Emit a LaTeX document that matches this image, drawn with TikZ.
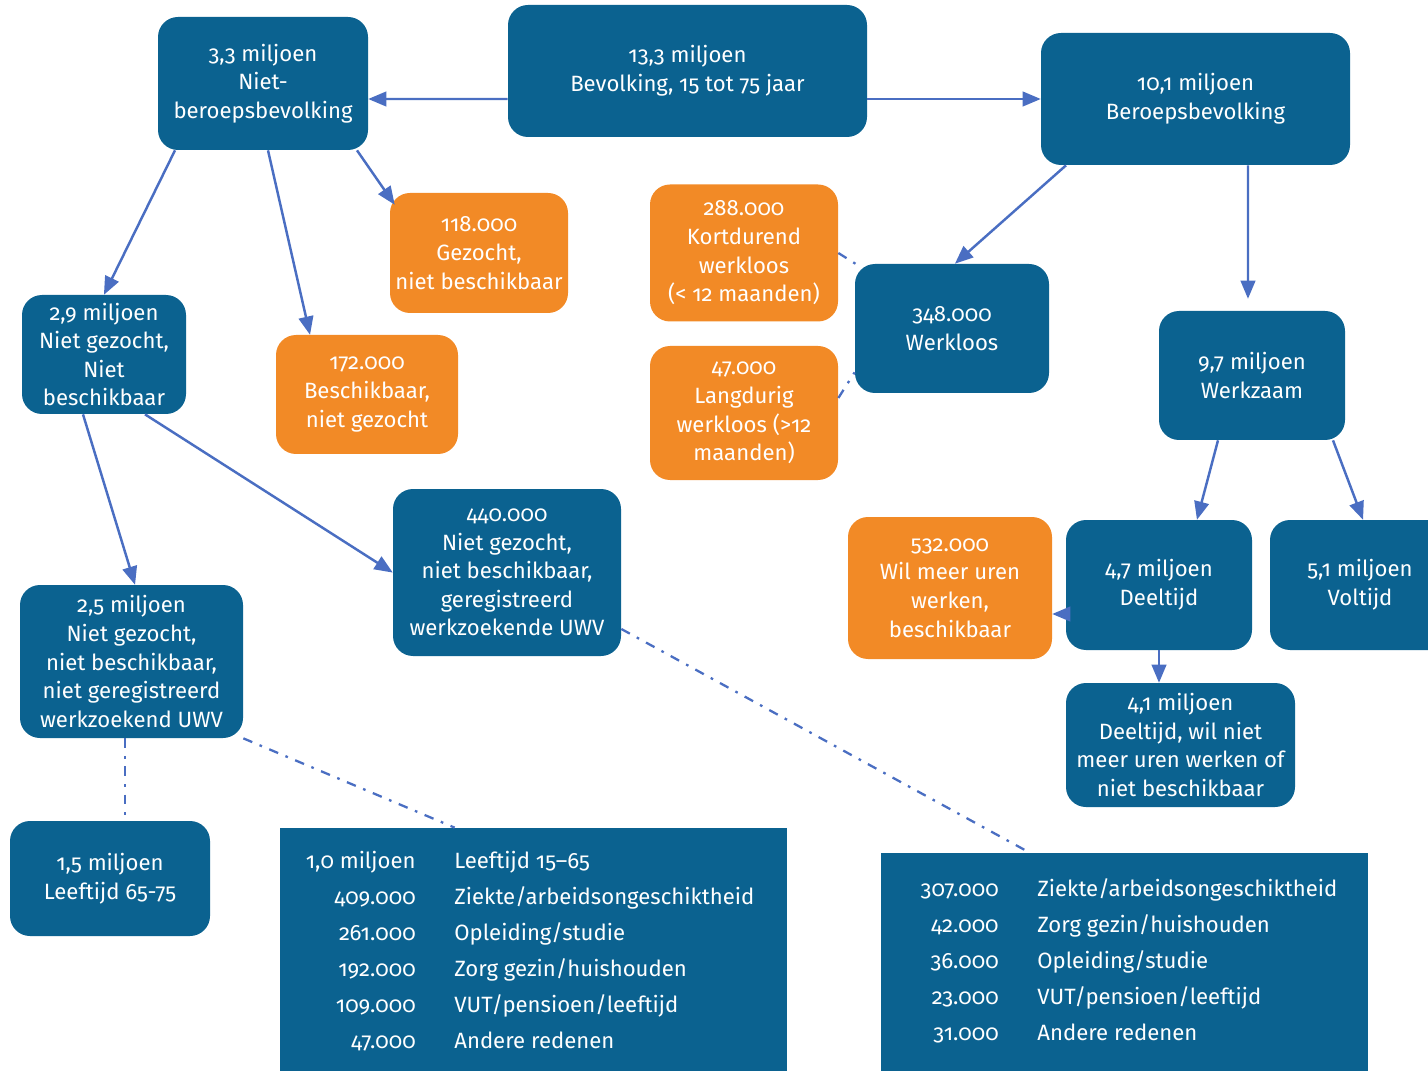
\documentclass[tikz,border=0pt]{standalone}
\usepackage{fontspec}
\setmainfont{Fira Sans}[Numbers=OldStyle]
\usepackage{xcolor}
\usetikzlibrary{arrows,positioning,calc}
\definecolor{cbsblue}{HTML}{0B6290}
\definecolor{cbsorange}{HTML}{F28A26}
\definecolor{linkblue}{HTML}{4A6EC2}

\begin{document}
\begin{tikzpicture}[x=0.02cm,y=-0.02cm,>=triangle 45,
	wh/.style 2 args={minimum width=#1*0.02cm,minimum height=#2*0.02cm},
	main node/.style={rectangle,rounded corners=0.4cm,inner sep=2pt,fill=cbsblue,text=white,align=center,
		font=\fontsize{12.6}{16.3}\selectfont},
	warm node/.style={main node,fill=cbsorange},
	table box/.style={rectangle,fill=cbsblue,inner sep=0pt},
	row text/.style={text=white,inner sep=0pt,font=\fontsize{12.6}{16.3}\selectfont},
	link/.style={->,draw=linkblue,line width=1.4pt},
	tie/.style={draw=linkblue,line width=1.3pt,dash pattern=on 5.5pt off 4.5pt on 1.5pt off 4.5pt}]

    \useasboundingbox (0,0) rectangle (1428,1071);

    % top row
    \node[main node,wh={359}{132}] (pop) at (687.5,71) {13,3 miljoen\\Bevolking, 15 tot 75 jaar};
    \node[main node,wh={210}{133}] (nbb) at (263,83.5) {3,3 miljoen\\Niet-\\beroepsbevolking};
    \node[main node,wh={309}{132}] (bb) at (1195.5,99) {10,1 miljoen\\Beroepsbevolking};

    % niet-beroepsbevolking
    \node[warm node,wh={178}{120}] (gzn) at (479,253) {118.000\\Gezocht,\\niet beschikbaar};
    \node[warm node,wh={182}{119}] (bnz) at (367,394.5) {172.000\\Beschikbaar,\\niet gezocht};
    \node[main node,wh={164}{119}] (ngnb) at (104,354.5) {2,9 miljoen\\Niet gezocht,\\Niet\\beschikbaar};
    \node[main node,wh={228}{167}] (uwv) at (507,572.5) {440.000\\Niet gezocht,\\niet beschikbaar,\\geregistreerd\\werkzoekende UWV};
    \node[main node,wh={223}{153}] (nuwv) at (131.5,661.5) {2,5 miljoen\\Niet gezocht,\\niet beschikbaar,\\niet geregistreerd\\werkzoekend UWV};
    \node[main node,wh={200}{115}] (oud) at (110,878.5) {1,5 miljoen\\Leeftijd 65-75};

    % beroepsbevolking
    \node[warm node,wh={188}{137}] (kort) at (744,253) {288.000\\Kortdurend\\werkloos\\(< 12 maanden)};
    \node[warm node,wh={188}{134}] (lang) at (744,413) {47.000\\Langdurig\\werkloos (>12\\maanden)};
    \node[main node,wh={194}{129}] (wl) at (952,328.5) {348.000\\Werkloos};
    \node[main node,wh={186}{129}] (wz) at (1252,375.5) {9,7 miljoen\\Werkzaam};
    \node[warm node,wh={204}{142}] (meer) at (950,588) {532.000\\Wil meer uren\\werken,\\beschikbaar};
    \node[main node,wh={186}{130}] (dt) at (1159,585) {4,7 miljoen\\Deeltijd};
    \node[main node,wh={180}{130}] (vt) at (1360,585) {5,1 miljoen\\Voltijd};
    \node[main node,wh={229}{124}] (dtn) at (1180.5,745) {4,1 miljoen\\Deeltijd, wil niet\\meer uren werken of\\niet beschikbaar};

    % redenen
    \node[table box,wh={507}{247}] (tab1) at (533.5,951.5) {};
    \node[table box,wh={487}{222}] (tab2) at (1124.5,964) {};
    \foreach \n/\t [count=\i] in {{1,0 miljoen}/{Leeftijd 15--65},409.000/{Ziekte/arbeidsongeschiktheid},
        261.000/{Opleiding/studie},192.000/{Zorg gezin/huishouden},
        109.000/{VUT/pensioen/leeftijd},47.000/{Andere redenen}}{
        \node[row text,anchor=mid east] (ta-\i) at (416,828+36*\i) {\n};
        \node[row text,anchor=mid west] (tb-\i) at (454,828+36*\i) {\t};
    }
    \foreach \n/\t [count=\i] in {307.000/{Ziekte/arbeidsongeschiktheid},42.000/{Zorg gezin/huishouden},
        36.000/{Opleiding/studie},23.000/{VUT/pensioen/leeftijd},31.000/{Andere redenen}}{
        \node[row text,anchor=mid east] (tc-\i) at (999,856+36*\i) {\n};
        \node[row text,anchor=mid west] (td-\i) at (1037,856+36*\i) {\t};
    }

    % pijlen
    \draw[link] ($(pop.west)+(0,28)$) -- ($(nbb.east)+(0,15.5)$);
    \draw[link] ($(pop.east)+(0,28)$) -- (bb.west);
    \draw[link] ($(nbb.south)+(-88,0)$) -- (ngnb.north);
    \draw[link] ($(nbb.south)+(5,0)$) -- ($(bnz.north)+(-57,0)$);
    \draw[link] ($(nbb.south)+(94,0)$) -- ($(gzn.north west)+(5,12)$);
    \draw[link] ($(bb.south)+(-129.5,0)$) -- ($(wl.north)+(3,0)$);
    \draw[link] ($(bb.south)+(52.5,0)$) -- ($(wz.north)+(-4,-12)$);
    \draw[link] ($(ngnb.south)+(-21,0)$) -- ($(nuwv.north)+(3.5,0)$);
    \draw[link] ($(ngnb.south)+(41,0)$) -- (uwv.west);
    \draw[link] ($(wz.south)+(-34,0)$) -- ($(dt.north)+(38,0)$);
    \draw[link] ($(wz.south)+(81,0)$) -- ($(vt.north)+(3,0)$);
    \draw[link] ($(dt.west)+(0,29)$) -- ($(meer.east)+(0,26)$);
    \draw[link] (dt.south) -- ($(dtn.north)+(-21.5,0)$);

    % stippellijnen
    \draw[tie] (kort.east) -- ($(wl.north west)+(7,4)$);
    \draw[tie] ($(lang.east)+(0,-15)$) -- ($(wl.south west)+(0,-21)$);
    \draw[tie] (nuwv.south east) -- ($(tab1.north west)+(175,0)$);
    \draw[tie] ($(nuwv.south)+(-6.5,0)$) -- ($(oud.north)+(15,0)$);
    \draw[tie] ($(uwv.east)+(0,56.5)$) -- ($(tab2.north west)+(149,0)$);

\end{tikzpicture}
\end{document}
